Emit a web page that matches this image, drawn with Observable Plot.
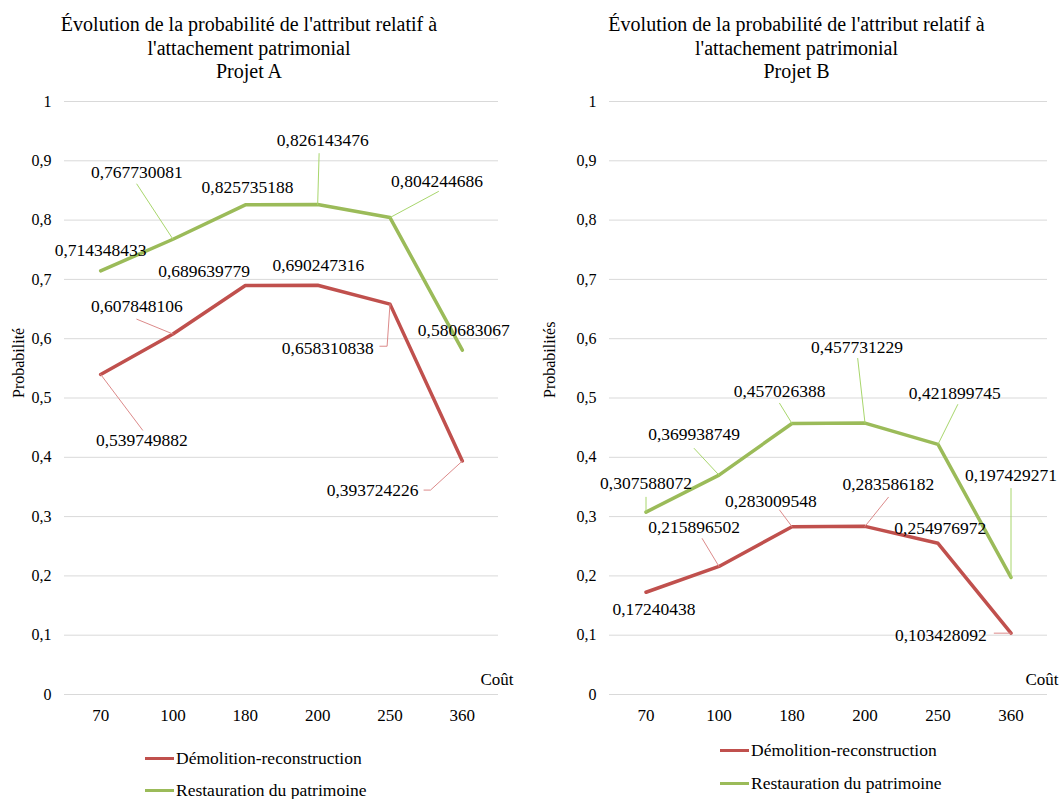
<!DOCTYPE html>
<html><head><meta charset="utf-8">
<script src="https://cdn.jsdelivr.net/npm/d3@7"></script>
<script src="https://cdn.jsdelivr.net/npm/@observablehq/plot@0.6"></script>
<style>
body{margin:0;background:#fff;font-family:"Liberation Serif","Times New Roman",Tinos,"Nimbus Roman","DejaVu Serif",serif;color:#000}
#root{position:relative;width:1062px;height:799px;overflow:hidden}
.title{position:absolute;top:13px;text-align:center;font-size:20px;line-height:23.5px}
.panel{position:absolute;top:88px}
.leg{position:absolute;font-size:17.5px;line-height:20px;display:flex;align-items:center;white-space:nowrap}
.leg span.sw{display:inline-block;width:29px;height:3px;margin-right:2px}
</style></head>
<body><div id="root"></div>
<script>
// ---- data ----
const categories = ["70", "100", "180", "200", "250", "360"];
const seriesNames = ["Démolition-reconstruction", "Restauration du patrimoine"];
const projetA_demolition   = [0.539749882, 0.607848106, 0.689639779, 0.690247316, 0.658310838, 0.393724226];
const projetA_restauration = [0.714348433, 0.767730081, 0.825735188, 0.826143476, 0.804244686, 0.580683067];
const projetB_demolition   = [0.17240438, 0.215896502, 0.283009548, 0.283586182, 0.254976972, 0.103428092];
const projetB_restauration = [0.307588072, 0.369938749, 0.457026388, 0.457731229, 0.421899745, 0.197429271];
const yTicks = [0, 0.1, 0.2, 0.3, 0.4, 0.5, 0.6, 0.7, 0.8, 0.9, 1];
const titleLines = ["Évolution de la probabilité de l'attribut relatif à", "l'attachement patrimonial"];
const projectNames = ["Projet A", "Projet B"];
const yLabels = ["Probabilité", "Probabilités"];
const xLabel = "Coût";

// ---- styling / label placement (offsets in [category index, value] units) ----
const FONT = "'Liberation Serif','Times New Roman',Tinos,'Nimbus Roman','DejaVu Serif',serif";
const colors = ["#c0504d", "#9bbb59"];
const leaderColors = ["#dc8a8a", "#a8d66c"];
const labelOffA = [
  [[0.57,-0.111],[-0.5,0.046],[-0.57,0.024],[0.01,0.034],[-0.86,-0.074],[-1.24,-0.049]],
  [[0,0.035],[-0.5,0.113],[0.03,0.030],[0.07,0.108],[0.65,0.061],[0.02,0.034]]
];
const leaderA = [
  {s:0,i:0,path:[[0.58,-0.094]]},
  {s:0,i:1,path:[[-0.5,0.025]]},
  {s:0,i:4,path:[[-0.04,-0.071],[-0.14,-0.071]]},
  {s:0,i:5,path:[[-0.44,-0.049],[-0.53,-0.049]]},
  {s:1,i:1,path:[[-0.5,0.093]]},
  {s:1,i:3,path:[[0.02,0.086]]},
  {s:1,i:4,path:[[0.67,0.044]]}
];
const labelOffB = [
  [[0.11,-0.029],[-0.34,0.066],[-0.29,0.042],[0.32,0.071],[0.03,0.025],[-0.96,-0.003]],
  [[0,0.049],[-0.34,0.069],[-0.17,0.054],[-0.11,0.128],[0.23,0.086],[0,0.172]]
];
const leaderB = [
  {s:0,i:1,path:[[-0.23,0.047]]},
  {s:0,i:2,path:[[-0.17,0.028]]},
  {s:0,i:3,path:[[0.32,0.049]]},
  {s:0,i:5,path:[[-0.23,0]]},
  {s:1,i:0,path:[[0,0.025]]},
  {s:1,i:1,path:[[-0.34,0.045]]},
  {s:1,i:2,path:[[-0.17,0.034]]},
  {s:1,i:3,path:[[-0.1,0.109]]},
  {s:1,i:4,path:[[0.27,0.067]]},
  {s:1,i:5,path:[[0,0.150]]}
];

const fmt = v => String(v).replace(".", ",");
const root = document.getElementById("root");

function panel({left, mL, mR, series, labelOff, leaders, yLabel, project, titleLeft, titleWidth, coutDx, legLeft, legTop}) {
  const rows = [];
  series.forEach((vals, s) => vals.forEach((v, i) => rows.push({s, i, v, lx: labelOff[s][i][0], ly: labelOff[s][i][1]})));
  const leaderRows = [];
  leaders.forEach((L, k) => {
    const v = series[L.s][L.i];
    leaderRows.push({id:k, s:L.s, x:L.i, y:v});
    L.path.forEach(p => leaderRows.push({id:k, s:L.s, x:L.i + p[0], y:v + p[1]}));
  });
  const idx = categories.map((c, i) => i);
  const marks = [
    Plot.ruleY(yTicks, {stroke:"#d9d9d9", strokeWidth:1}),
    Plot.axisY(yTicks, {tickSize:0, tickPadding:13, tickFormat:fmt, fontSize:16, fontFamily:FONT, label:null}),
    Plot.axisX(idx, {tickSize:0, tickPadding:14, tickFormat:i => categories[i], fontSize:17, fontFamily:FONT, label:null}),
    Plot.text({length:1}, {text:() => yLabel, frameAnchor:"left", dx:-(mL - 18), rotate:-90, fontSize:16, fontFamily:FONT}),
    Plot.text({length:1}, {text:() => xLabel, frameAnchor:"bottom-right", textAnchor:"end", dx:coutDx, dy:-10, fontSize:17, fontFamily:FONT})
  ];
  [0, 1].forEach(s => {
    marks.push(Plot.line(rows.filter(d => d.s === s), {x:"i", y:"v", stroke:colors[s], strokeWidth:3.5, strokeLinejoin:"round"}));
  });
  [0, 1].forEach(s => {
    marks.push(Plot.line(leaderRows.filter(d => d.s === s), {x:"x", y:"y", z:"id", stroke:leaderColors[s], strokeWidth:1}));
  });
  marks.push(Plot.text(rows, {x:d => d.i + d.lx, y:d => d.v + d.ly, text:d => fmt(d.v), fontSize:17.5, fontFamily:FONT, fill:"#000"}));

  const svg = Plot.plot({
    width:531, height:650, marginTop:13, marginBottom:44, marginLeft:mL, marginRight:mR,
    style:{fontFamily:FONT, fontSize:"16px", color:"#000", background:"transparent", overflow:"visible"},
    x:{domain:[-0.5, 5.5], axis:null},
    y:{domain:[0, 1], axis:null},
    marks
  });
  const wrap = document.createElement("div");
  wrap.className = "panel";
  wrap.style.left = left + "px";
  wrap.appendChild(svg);
  root.appendChild(wrap);

  const t = document.createElement("div");
  t.className = "title";
  t.style.left = titleLeft + "px";
  t.style.width = titleWidth + "px";
  t.innerHTML = titleLines.concat([project]).join("<br>");
  root.appendChild(t);

  seriesNames.forEach((name, s) => {
    const l = document.createElement("div");
    l.className = "leg";
    l.style.left = legLeft + "px";
    l.style.top = (legTop[s] - 10) + "px";
    l.innerHTML = `<span class="sw" style="background:${colors[s]}"></span>${name}`;
    root.appendChild(l);
  });
}

panel({left:0, mL:64, mR:33, series:[projetA_demolition, projetA_restauration], labelOff:labelOffA, leaders:leaderA,
  yLabel:yLabels[0], project:projectNames[0], titleLeft:0, titleWidth:498, coutDx:15, legLeft:145, legTop:[758, 790]});
panel({left:531, mL:78, mR:15, series:[projetB_demolition, projetB_restauration], labelOff:labelOffB, leaders:leaderB,
  yLabel:yLabels[1], project:projectNames[1], titleLeft:531, titleWidth:531, coutDx:11, legLeft:720, legTop:[750, 783]});
</script></body></html>
